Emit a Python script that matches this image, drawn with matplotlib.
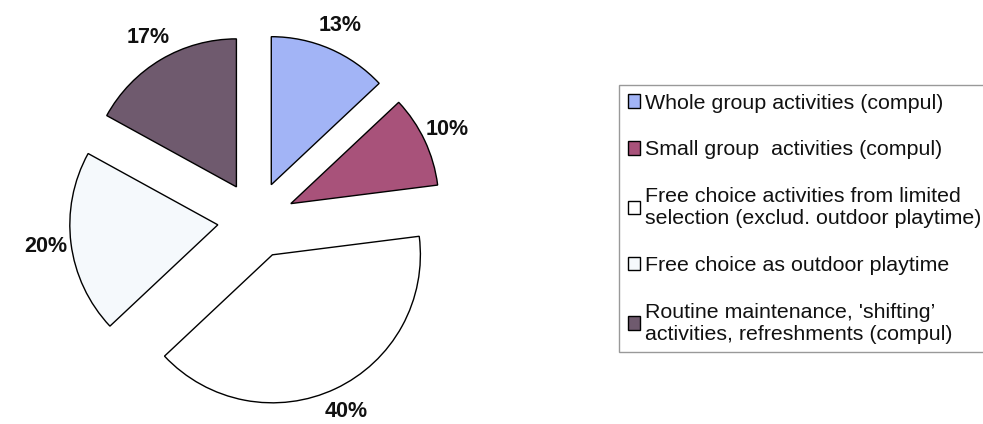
import matplotlib
matplotlib.use("Agg")
import matplotlib.pyplot as plt

categories = [
    "Whole group activities (compul)",
    "Small group  activities (compul)",
    "Free choice activities from limited\nselection (exclud. outdoor playtime)",
    "Free choice as outdoor playtime",
    "Routine maintenance, 'shifting\u2019\nactivities, refreshments (compul)",
]
values = [13, 10, 40, 20, 17]
colors = ["#a2b4f6", "#a8527a", "#ffffff", "#f5f9fc", "#6f5a6e"]

plt.rcParams["font.family"] = ["Liberation Sans", "DejaVu Sans"]

W, H = 983, 424
fig = plt.figure(figsize=(W / 100, H / 100), dpi=100)
R = 148.0
cx, cy = 256.0, 220.0
axw = 520.0
ax = fig.add_axes([0, 0, axw / W, 1])

wedges, texts, autotexts = ax.pie(
    values,
    colors=colors,
    startangle=90,
    counterclock=False,
    explode=[0.26] * len(values),
    autopct=lambda p: f"{p:.0f}%",
    pctdistance=1.17,
    wedgeprops=dict(edgecolor="black", linewidth=1.0),
    textprops=dict(fontsize=15.5, fontweight="bold", color="#111111"),
    radius=1.0,
)
ax.set_aspect("auto")
ax.set_xlim(-cx / R, (axw - cx) / R)
ax.set_ylim(-(H - cy) / R, cy / R)
ax.axis("off")

leg = ax.legend(
    wedges,
    categories,
    loc="upper left",
    bbox_to_anchor=(619 / W, 1 - 85 / H),
    bbox_transform=fig.transFigure,
    borderaxespad=0,
    fontsize=15.4,
    handlelength=0.6,
    handleheight=0.6,
    handletextpad=0.2,
    borderpad=0.4,
    labelspacing=1.3,
    fancybox=False,
    frameon=True,
)
leg.get_frame().set_edgecolor("#808080")
leg.get_frame().set_linewidth(1.0)
for t in leg.get_texts():
    t.set_linespacing(1.2)
    t.set_color("#111111")

fig.savefig("out.png", dpi=100, facecolor="white")
